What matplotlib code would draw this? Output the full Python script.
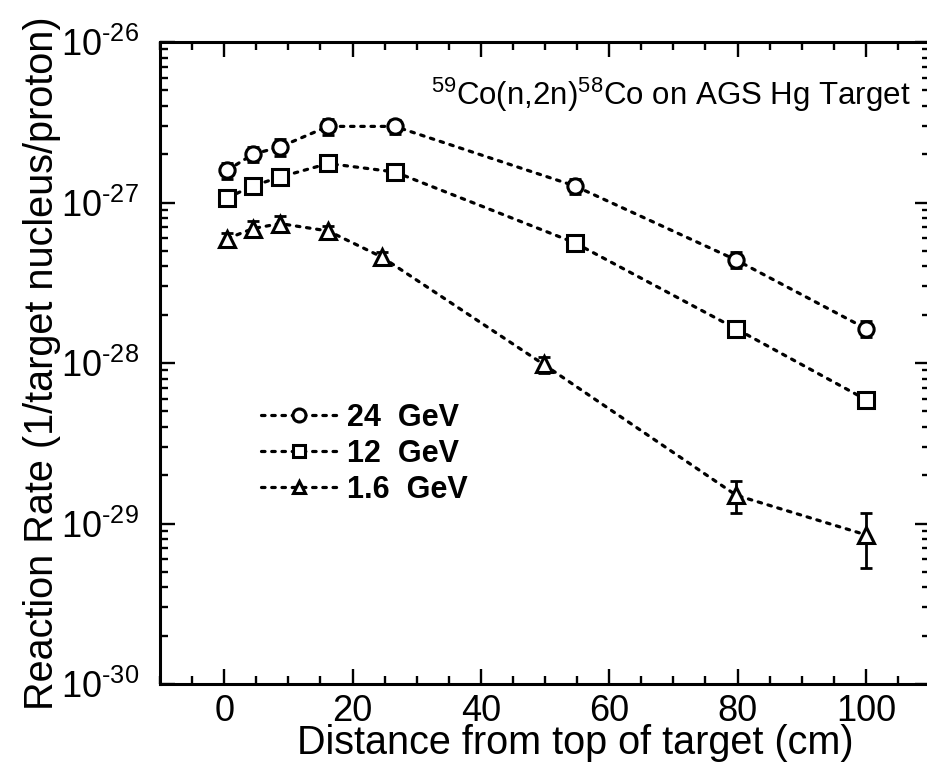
import matplotlib
matplotlib.use("Agg")
import matplotlib.pyplot as plt
from matplotlib.ticker import MultipleLocator, FixedLocator, LogLocator, NullFormatter, FuncFormatter
import numpy as np

plt.rcParams['font.family'] = ['Liberation Sans', 'DejaVu Sans']
plt.rcParams['mathtext.fontset'] = 'custom'
plt.rcParams['mathtext.rm'] = 'Liberation Sans'
plt.rcParams['mathtext.it'] = 'Liberation Sans'
plt.rcParams['mathtext.default'] = 'regular'

# distance from top of target (cm)
x_24 = [0.5, 4.5, 8.7, 16.2, 26.6, 54.6, 79.7, 100.0]
x_12 = [0.5, 4.5, 8.7, 16.2, 26.6, 54.6, 79.7, 100.0]
x_16 = [0.5, 4.5, 8.7, 16.2, 24.6, 49.8, 79.8, 100.0]

# reaction rates (1/target nucleus/proton)
y_24 = [1.59e-27, 2.00e-27, 2.22e-27, 2.98e-27, 2.98e-27, 1.27e-27, 4.40e-28, 1.64e-28]
e_24 = [0.18e-27, 0.22e-27, 0.26e-27, 0.35e-27, 0.30e-27, 0.14e-27, 0.50e-28, 0.18e-28]
y_12 = [1.07e-27, 1.27e-27, 1.44e-27, 1.75e-27, 1.55e-27, 5.62e-28, 1.64e-28, 5.92e-29]
e_12 = [0.06e-27, 0.07e-27, 0.08e-27, 0.10e-27, 0.09e-27, 0.35e-28, 0.10e-28, 0.35e-29]
y_16 = [5.96e-28, 6.88e-28, 7.39e-28, 6.65e-28, 4.57e-28, 9.80e-29, 1.50e-29, 8.50e-30]
e_16 = [0.45e-28, 0.75e-28, 0.80e-28, 0.50e-28, 0.35e-28, 1.10e-29, 0.33e-29, 3.20e-30]

labels = ['24  GeV', '12  GeV', '1.6  GeV']
markers = ['o', 's', '^']


def log_label(v, pos):
    # short hyphen in the exponent, like the original figure
    return r'$10^{\text{-}%d}$' % round(-np.log10(v))


fig = plt.figure(figsize=(9.27, 7.7), dpi=100)
ax = fig.add_axes([160 / 927, 86 / 770, 770 / 927, 642 / 770])

dots = (0, (1.1, 2.1))
series = [(x_24, y_24, e_24), (x_12, y_12, e_12), (x_16, y_16, e_16)]
for (xs, ys, es), m, lab in zip(series, markers, labels):
    ax.errorbar(xs, ys, yerr=es, fmt='none', ecolor='black', elinewidth=2,
                capsize=4.5, capthick=2, zorder=2)
    ax.plot(xs, ys, linestyle=dots, color='black', linewidth=2.3,
            dash_capstyle='round',
            marker=m, markersize=11, markerfacecolor='white',
            markeredgecolor='black', markeredgewidth=2.2, label=lab, zorder=3)

ax.set_yscale('log')
ax.set_xlim(-10, 110)
ax.set_ylim(1e-30, 1e-26)

ax.xaxis.set_major_locator(MultipleLocator(20))
ax.xaxis.set_minor_locator(MultipleLocator(5))
ax.yaxis.set_major_locator(FixedLocator([1e-30, 1e-29, 1e-28, 1e-27, 1e-26]))
ax.yaxis.set_major_formatter(FuncFormatter(log_label))
ax.yaxis.set_minor_locator(LogLocator(base=10, subs=np.arange(2, 10), numticks=10))
ax.yaxis.set_minor_formatter(NullFormatter())

ax.tick_params(which='both', direction='in', top=True, right=True, width=1.7)
ax.tick_params(which='major', length=11, labelsize=26)
ax.tick_params(which='minor', length=5.5)
ax.tick_params(axis='x', which='major', pad=7)
ax.tick_params(axis='y', which='major', pad=15)
for s in ax.spines.values():
    s.set_linewidth(2.2)

ax.set_xlabel('Distance from top of target (cm)', fontsize=28.5)
ax.xaxis.set_label_coords(0.54, -0.0625)
ax.set_ylabel('Reaction Rate (1/target nucleus/proton)', fontsize=28.5, labelpad=0)

ax.text(0.975, 0.918, r'$^{59}$Co(n,2n)$^{58}$Co on AGS Hg Target',
        transform=ax.transAxes, ha='right', va='center', fontsize=22.5)

leg = ax.legend(loc='upper left', bbox_to_anchor=(0.131, 0.438), frameon=False,
                prop={'weight': 'bold', 'size': 22}, handlelength=2.5,
                handletextpad=0.33, labelspacing=0.2, markerscale=0.85,
                borderaxespad=0, borderpad=0)

fig.savefig('out.png', dpi=100)
